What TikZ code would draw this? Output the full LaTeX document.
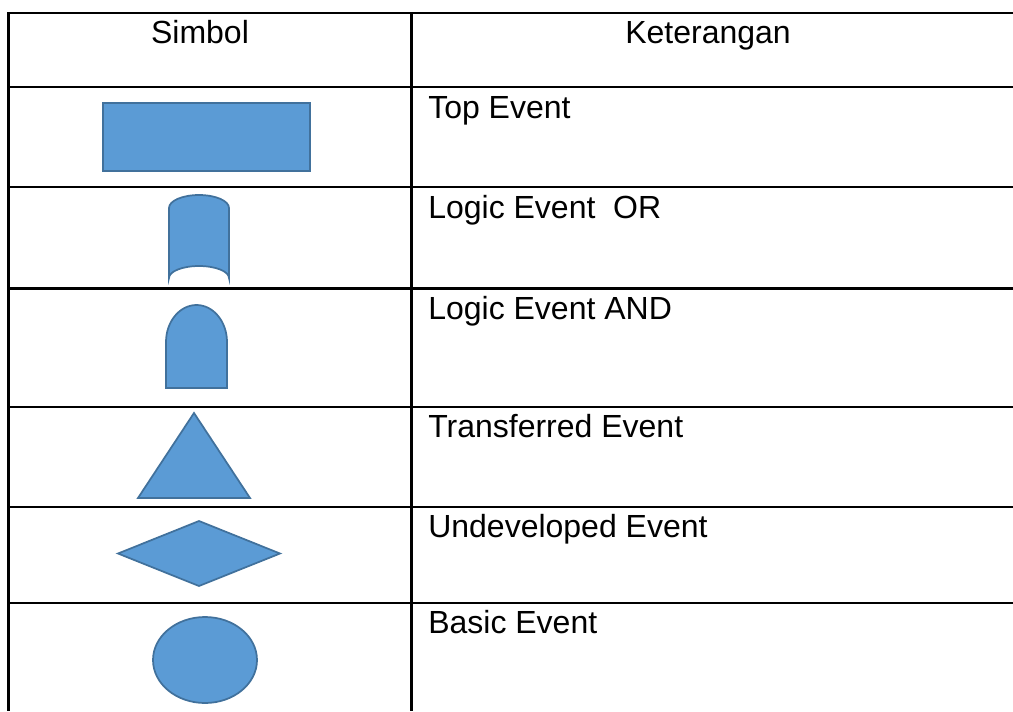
\documentclass[tikz,border=0pt]{standalone}
\usepackage{fontspec}
\setmainfont{Liberation Sans}
\definecolor{gatefill}{HTML}{5B9BD5}
\definecolor{gateline}{HTML}{41719C}

\begin{document}
\begin{tikzpicture}[x=0.75pt,y=-0.75pt,
		rule/.style={line width=2pt,black},
		symbol/.style={fill=gatefill,draw=gateline,line width=1.3pt,line join=miter},
		celltext/.style={inner sep=0pt,font=\fontsize{24}{28}\selectfont},
		headtext/.style={celltext,anchor=base},
		entrytext/.style={celltext,anchor=base west}]
		\useasboundingbox (0,0) rectangle (1013,711);

		\foreach \y in {13,87,187,288.5,407,507,603}
			\draw[rule] (7.5,\y) -- (1013,\y);
		\draw[rule] (8.5,12) -- (8.5,711);
		\draw[rule] (411.5,12) -- (411.5,711);

		\node[headtext] (simbol) at (200,43.5) {Simbol};
		\node[headtext] (keterangan) at (708,43.5) {Keterangan};

		\draw[symbol] (103,103) rectangle (310,171);
		\draw[symbol] (169,278) -- (169,208)
			.. controls (169,200.8) and (182.4,195) .. (199,195)
			.. controls (215.6,195) and (229,200.8) .. (229,208)
			-- (229,278)
			.. controls (229,271.4) and (215.6,266) .. (199,266)
			.. controls (182.4,266) and (169,271.4) .. (169,278) -- cycle;
		\draw[symbol] (166,388) -- (166,342)
			.. controls (166,321.6) and (179.7,305) .. (196.5,305)
			.. controls (213.3,305) and (227,321.6) .. (227,342)
			-- (227,388) -- cycle;
		\draw[symbol] (138,498) -- (194,413) -- (250,498) -- cycle;
		\draw[symbol] (118,553.5) -- (199,521) -- (280,553.5) -- (199,586) -- cycle;
		\draw[symbol] (205,660) ellipse [x radius=52,y radius=43];

		\node[entrytext] (top) at (428,118) {Top Event};
		\node[entrytext] (or) at (428,218) {Logic Event\ \ OR};
		\node[entrytext] (and) at (428,319) {Logic Event AND};
		\node[entrytext] (transfer) at (428,437.5) {Transferred Event};
		\node[entrytext] (undeveloped) at (428,537) {Undeveloped Event};
		\node[entrytext] (basic) at (428,633.5) {Basic Event};

	\end{tikzpicture}
\end{document}
